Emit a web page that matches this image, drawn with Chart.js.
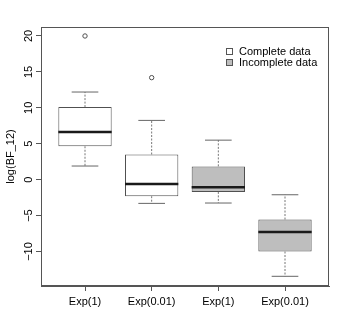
<!DOCTYPE html>
<html>
<head>
<meta charset="utf-8">
<script src="https://cdn.jsdelivr.net/npm/chart.js@4"></script>
<style>
  html, body { margin: 0; padding: 0; background: #fff; }
  #wrap { width: 350px; height: 323px; }
</style>
</head>
<body>
<div id="wrap"><canvas id="bfChart"></canvas></div>
<script>
    var groupLabels = ['Exp(1)', 'Exp(0.01)', 'Exp(1)', 'Exp(0.01)'];
    var groupFill = ['#ffffff', '#ffffff', '#bebebe', '#bebebe'];
    var whiskerLow = [1.9, -3.3, -3.25, -13.45];
    var q1 = [4.65, -2.3, -1.7, -10.0];
    var medians = [6.65, -0.6, -1.05, -7.3];
    var q3 = [10.1, 3.5, 1.85, -5.55];
    var whiskerHigh = [12.2, 8.25, 5.5, -2.1];
    var outliers = [[20.0], [14.2], [], []];
    var yTicks = [-10, -5, 0, 5, 10, 15, 20];
    var legendLabels = ['Complete data', 'Incomplete data'];
    var legendFill = ['#ffffff', '#bebebe'];

    var font = { family: '"Liberation Sans", Arial, sans-serif', size: 11 };
    var lineColor = '#505050';

    // box positions 1..n on a linear x axis
    var pos = groupLabels.map((_, i) => i + 1);
    var boxData = pos.map((x, i) => ({ x: x, y: [q1[i], q3[i]] }));

    var medianPts = [], capPts = [], whiskerPts = [], outlierPts = [];
    pos.forEach((x, i) => {
        medianPts.push({ x: x - 0.4, y: medians[i] }, { x: x + 0.4, y: medians[i] }, { x: x, y: null });
        capPts.push({ x: x - 0.2, y: whiskerHigh[i] }, { x: x + 0.2, y: whiskerHigh[i] }, { x: x, y: null });
        capPts.push({ x: x - 0.2, y: whiskerLow[i] }, { x: x + 0.2, y: whiskerLow[i] }, { x: x, y: null });
        whiskerPts.push({ x: x, y: q3[i] }, { x: x, y: whiskerHigh[i] }, { x: x, y: null });
        whiskerPts.push({ x: x, y: q1[i] }, { x: x, y: whiskerLow[i] }, { x: x, y: null });
        outliers[i].forEach(v => outlierPts.push({ x: x, y: v }));
    });

    // frame around the plot + legend, R style
    var framePlugin = {
        id: 'frame',
        afterDraw(chart) {
            var ctx = chart.ctx, a = chart.chartArea;
            ctx.save();
            ctx.strokeStyle = '#555';
            ctx.lineWidth = 1;
            ctx.strokeRect(Math.round(a.left) + 0.5, Math.round(a.top) + 0.5,
                Math.round(a.right - a.left) - 1, Math.round(a.bottom - a.top) - 1);

            ctx.font = font.size + 'px ' + font.family;
            ctx.textBaseline = 'middle';
            ctx.textAlign = 'left';
            legendLabels.forEach((t, i) => {
                var y = Math.round(a.top + 24 + i * 10.5);
                var x = Math.round(a.right - 103);
                ctx.fillStyle = legendFill[i];
                ctx.fillRect(x, y - 3, 7, 7);
                ctx.strokeStyle = '#555';
                ctx.strokeRect(x + 0.5, y - 2.5, 6, 6);
                ctx.fillStyle = '#000';
                ctx.fillText(t, a.right - 90, y + 0.5);
            });
            ctx.restore();
        }
    };

    var ctx = document.getElementById('bfChart').getContext('2d');
    var bfChart = new Chart(ctx, {
        type: 'bar',
        data: {
            datasets: [{
                label: 'box',
                data: boxData,
                backgroundColor: groupFill,
                borderColor: lineColor,
                borderWidth: 1,
                borderSkipped: false,
                barPercentage: 1,
                categoryPercentage: 0.8,
                order: 5
            }, {
                type: 'line',
                label: 'median',
                data: medianPts,
                borderColor: '#1a1a1a',
                borderWidth: 2.5,
                pointRadius: 0,
                spanGaps: false,
                order: 0
            }, {
                type: 'line',
                label: 'caps',
                data: capPts,
                borderColor: '#666',
                borderWidth: 1,
                pointRadius: 0,
                spanGaps: false,
                order: 1
            }, {
                type: 'line',
                label: 'whiskers',
                data: whiskerPts,
                borderColor: '#777',
                borderWidth: 1,
                borderDash: [2, 1.5],
                pointRadius: 0,
                spanGaps: false,
                order: 2
            }, {
                type: 'scatter',
                label: 'outliers',
                data: outlierPts,
                pointStyle: 'circle',
                pointRadius: 2.2,
                backgroundColor: '#fff',
                borderColor: lineColor,
                borderWidth: 1,
                order: 3
            }]
        },
        options: {
            responsive: true,
            maintainAspectRatio: false,
            animation: false,
            layout: { padding: { top: 27, right: 21, left: 0, bottom: 0 } },
            scales: {
                x: {
                    type: 'linear',
                    min: 0.34,
                    max: 4.66,
                    offset: false,
                    afterBuildTicks: s => { s.ticks = pos.map(v => ({ value: v })); },
                    afterFit: s => { s.height = 37; },
                    ticks: {
                        callback: (v, i) => groupLabels[i],
                        autoSkip: false,
                        maxRotation: 0,
                        minRotation: 0,
                        font: font,
                        color: '#000',
                        padding: 4
                    },
                    grid: { offset: false, drawOnChartArea: false, drawTicks: true, tickLength: 5, color: '#555' },
                    border: { color: '#555' }
                },
                y: {
                    type: 'linear',
                    min: -14.8,
                    max: 21.25,
                    afterBuildTicks: s => { s.ticks = yTicks.map(v => ({ value: v })); },
                    afterFit: s => { s.width = 41; },
                    ticks: {
                        callback: v => String(v).replace('-', '\u2212'),
                        minRotation: 90,
                        maxRotation: 90,
                        crossAlign: 'center',
                        font: font,
                        color: '#000',
                        padding: -2
                    },
                    title: {
                        display: true,
                        text: 'log(BF_12)',
                        font: font,
                        color: '#000',
                        padding: { top: 4, bottom: 0 }
                    },
                    grid: { drawOnChartArea: false, drawTicks: true, tickLength: 5, color: '#555' },
                    border: { color: '#555' }
                }
            },
            plugins: {
                legend: { display: false },
                tooltip: { enabled: false }
            }
        },
        plugins: [framePlugin]
    });
</script>
</body>
</html>
